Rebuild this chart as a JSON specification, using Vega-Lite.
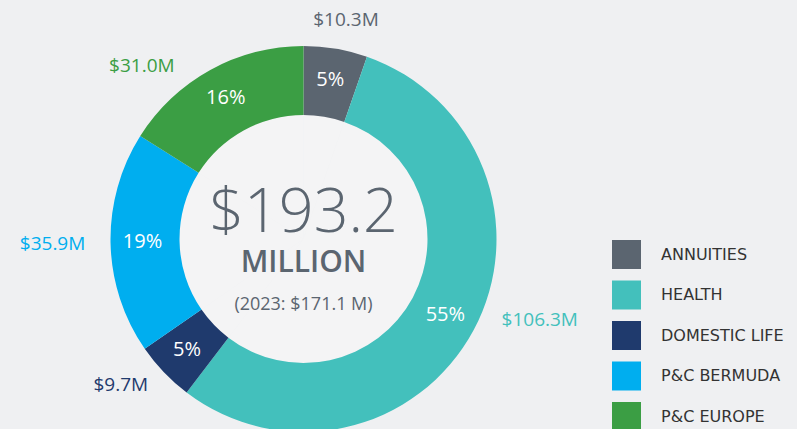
{
  "$schema": "https://vega.github.io/schema/vega-lite/v6.json",
  "width": 607,
  "height": 380,
  "autosize": {"type": "none"},
  "padding": {"left": 0, "top": 49, "right": 190, "bottom": 0},
  "background": "#eff0f2",
  "config": {"view": {"stroke": null}},
  "datasets": {
    "seg": [
      {"idx": 1, "cat": "ANNUITIES", "value": 10.3, "pct": "5%", "label": "$10.3M"},
      {"idx": 2, "cat": "HEALTH", "value": 106.3, "pct": "55%", "label": "$106.3M"},
      {"idx": 3, "cat": "DOMESTIC LIFE", "value": 9.7, "pct": "5%", "label": "$9.7M"},
      {"idx": 4, "cat": "P&C BERMUDA", "value": 35.9, "pct": "19%", "label": "$35.9M"},
      {"idx": 5, "cat": "P&C EUROPE", "value": 31.0, "pct": "16%", "label": "$31.0M"}
    ]
  },
  "data": {"name": "seg"},
  "layer": [
    {
      "mark": {"type": "arc", "outerRadius": 124, "innerRadius": 0, "fill": "#f4f4f5", "strokeWidth": 0},
      "encoding": {
        "theta": {"field": "value", "type": "quantitative", "stack": true},
        "order": {"field": "idx", "type": "quantitative"}
      }
    },
    {
      "mark": {"type": "arc", "outerRadius": 193, "innerRadius": 124, "strokeWidth": 0},
      "encoding": {
        "theta": {"field": "value", "type": "quantitative", "stack": true},
        "order": {"field": "idx", "type": "quantitative"},
        "color": {
          "field": "cat",
          "type": "nominal",
          "scale": {
            "domain": ["ANNUITIES", "HEALTH", "DOMESTIC LIFE", "P&C BERMUDA", "P&C EUROPE"],
            "range": ["#5b6570", "#43c0bc", "#1f3a6d", "#00aeef", "#3b9e44"]
          },
          "legend": {
            "orient": "none",
            "legendX": 612,
            "legendY": 191,
            "title": null,
            "symbolType": "square",
            "symbolSize": 841,
            "symbolStrokeWidth": 0,
            "symbolOpacity": 1,
            "labelFont": "DejaVu Sans",
            "labelFontSize": 16,
            "labelColor": "#333333",
            "labelOffset": 20,
            "labelBaseline": "middle",
            "rowPadding": 11.5,
            "padding": 0,
            "labelLimit": 300
          }
        }
      }
    },
    {
      "mark": {"type": "text", "radius": 161, "color": "#ffffff", "font": "Open Sans", "fontSize": 20, "fontWeight": 500, "baseline": "middle", "align": "center"},
      "encoding": {
        "theta": {"field": "value", "type": "quantitative", "stack": true},
        "order": {"field": "idx", "type": "quantitative"},
        "text": {"field": "pct", "type": "nominal"}
      }
    },
    {
      "mark": {"type": "text", "radius": 225, "color": "#5b6570", "font": "Open Sans", "fontSize": 19, "baseline": "middle", "align": "center", "dx": 5, "dy": 3},
      "encoding": {
        "theta": {"field": "value", "type": "quantitative", "stack": true},
        "order": {"field": "idx", "type": "quantitative"},
        "text": {"condition": {"test": "datum.cat === 'ANNUITIES'", "field": "label"}, "value": ""}
      }
    },
    {
      "mark": {"type": "text", "radius": 225, "color": "#43c0bc", "font": "Open Sans", "fontSize": 19, "baseline": "middle", "align": "center", "dx": 38, "dy": -25},
      "encoding": {
        "theta": {"field": "value", "type": "quantitative", "stack": true},
        "order": {"field": "idx", "type": "quantitative"},
        "text": {"condition": {"test": "datum.cat === 'HEALTH'", "field": "label"}, "value": ""}
      }
    },
    {
      "mark": {"type": "text", "radius": 225, "color": "#1f3a6d", "font": "Open Sans", "fontSize": 19, "baseline": "middle", "align": "center", "dx": -20, "dy": -9},
      "encoding": {
        "theta": {"field": "value", "type": "quantitative", "stack": true},
        "order": {"field": "idx", "type": "quantitative"},
        "text": {"condition": {"test": "datum.cat === 'DOMESTIC LIFE'", "field": "label"}, "value": ""}
      }
    },
    {
      "mark": {"type": "text", "radius": 225, "color": "#00aeef", "font": "Open Sans", "fontSize": 19, "baseline": "middle", "align": "center", "dx": -26, "dy": 0},
      "encoding": {
        "theta": {"field": "value", "type": "quantitative", "stack": true},
        "order": {"field": "idx", "type": "quantitative"},
        "text": {"condition": {"test": "datum.cat === 'P&C BERMUDA'", "field": "label"}, "value": ""}
      }
    },
    {
      "mark": {"type": "text", "radius": 225, "color": "#3b9e44", "font": "Open Sans", "fontSize": 19, "baseline": "middle", "align": "center", "dx": -53, "dy": 24},
      "encoding": {
        "theta": {"field": "value", "type": "quantitative", "stack": true},
        "order": {"field": "idx", "type": "quantitative"},
        "text": {"condition": {"test": "datum.cat === 'P&C EUROPE'", "field": "label"}, "value": ""}
      }
    },
    {
      "data": {"values": [{"t": "$193.2"}]},
      "mark": {"type": "text", "color": "#5b6570", "font": "Open Sans", "fontSize": 61, "fontWeight": 300, "baseline": "alphabetic", "align": "center", "dy": -7},
      "encoding": {"text": {"field": "t", "type": "nominal"}}
    },
    {
      "data": {"values": [{"t": "MILLION"}]},
      "mark": {"type": "text", "color": "#5b6570", "font": "Open Sans", "fontSize": 30, "fontWeight": 600, "baseline": "alphabetic", "align": "center", "dy": 33},
      "encoding": {"text": {"field": "t", "type": "nominal"}}
    },
    {
      "data": {"values": [{"t": "(2023: $171.1 M)"}]},
      "mark": {"type": "text", "color": "#5b6570", "font": "Open Sans", "fontSize": 18, "baseline": "alphabetic", "align": "center", "dy": 71},
      "encoding": {"text": {"field": "t", "type": "nominal"}}
    }
  ]
}
